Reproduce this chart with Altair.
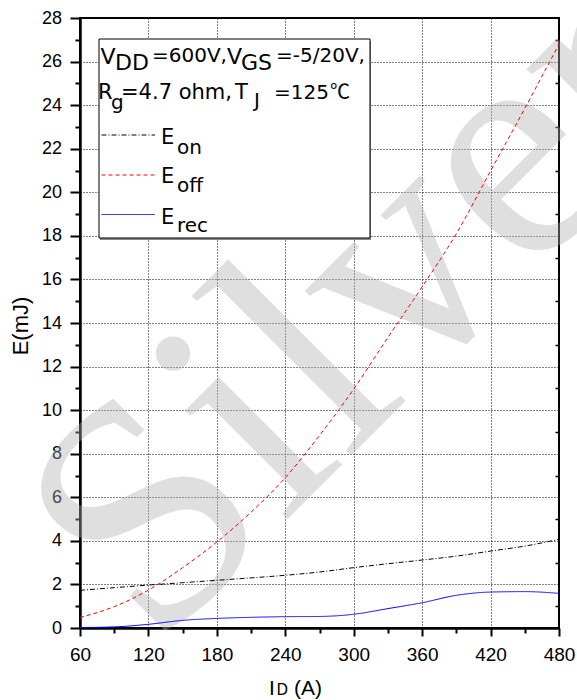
import altair as alt
import pandas as pd

# ---- data ----
current_a = [60, 90, 120, 150, 180, 210, 240, 270, 300, 330, 360, 390, 420, 450, 480]
e_on = [1.73, 1.85, 1.97, 2.08, 2.19, 2.30, 2.42, 2.57, 2.77, 2.95, 3.12, 3.30, 3.53, 3.76, 4.07]
e_off = [0.48, 0.98, 1.74, 2.77, 3.95, 5.32, 6.90, 8.84, 10.97, 13.34, 15.66, 18.10, 20.98, 23.85, 26.80]
e_rec = [0.02, 0.05, 0.17, 0.35, 0.44, 0.49, 0.52, 0.53, 0.63, 0.89, 1.16, 1.50, 1.65, 1.67, 1.59]
series_names = ["on", "off", "rec"]
x_major = [60, 120, 180, 240, 300, 360, 420, 480]
x_minor = [90, 150, 210, 270, 330, 390, 450]
y_major = list(range(0, 29, 2))
y_minor = list(range(1, 28, 2))

rows = []
for name, vals in zip(series_names, [e_on, e_off, e_rec]):
    for xv, yv in zip(current_a, vals):
        rows.append({"I": xv, "E": yv, "s": name})
df = pd.DataFrame(rows)
one = pd.DataFrame({"k": [0]})

W, H = 479, 610
FONT = "Liberation Sans"
LFONT = "DejaVu Sans"
xs = alt.Scale(domain=[60, 480], nice=False, zero=False)
ys = alt.Scale(domain=[0, 28], nice=False, zero=False)

colors = alt.Scale(domain=series_names, range=["#000000", "#ff0000", "#0000ff"])
dashes = alt.Scale(domain=series_names, range=[[5, 2, 1, 2], [4, 3], [1, 0]])

# main lines with major axes
lines = alt.Chart(df).mark_line(strokeWidth=1, interpolate="monotone", clip=True).encode(
    x=alt.X("I:Q", scale=xs, axis=alt.Axis(
        orient="bottom", values=x_major, tickSize=8, tickWidth=2, tickColor="black",
        labelFontSize=19, labelFont=FONT, labelColor="black", labelPadding=9,
        labelFlush=False, labelOverlap=False, grid=True, gridDash=[1, 2],
        gridColor="black", gridWidth=1, domain=True, domainWidth=2.5,
        domainColor="black", title=None)),
    y=alt.Y("E:Q", scale=ys, axis=alt.Axis(
        orient="left", values=y_major, tickSize=10, tickWidth=2, tickColor="black",
        labelFontSize=18, labelFont=FONT, labelColor="black", labelPadding=8.5,
        labelFlush=False, labelOverlap=False, grid=True, gridDash=[1, 2],
        gridColor="black", gridWidth=1, domain=True, domainWidth=2.5,
        domainColor="black", title=None)),
    color=alt.Color("s:N", scale=colors, legend=None),
    strokeDash=alt.StrokeDash("s:N", scale=dashes, legend=None),
)

# minor ticks (left and bottom)
minor = alt.Chart(df).mark_line(opacity=0).encode(
    x=alt.X("I:Q", scale=xs, axis=alt.Axis(
        orient="bottom", values=x_minor, tickSize=5, tickWidth=2, tickColor="black",
        labels=False, grid=False, domain=False, title=None)),
    y=alt.Y("E:Q", scale=ys, axis=alt.Axis(
        orient="left", values=y_minor, tickSize=5, tickWidth=2, tickColor="black",
        labels=False, grid=False, domain=False, title=None)),
    detail="s:N",
)

# inward minor ticks on the right frame
right = alt.Chart(df).mark_line(opacity=0).encode(
    x=alt.X("I:Q", scale=xs, axis=None),
    y=alt.Y("E:Q", scale=ys, axis=alt.Axis(
        orient="left", offset=-W, values=y_minor, tickSize=4, tickWidth=1.5,
        tickColor="black", labels=False, grid=False, domain=False, title=None)),
    detail="s:N",
)


def txt(s, x, y, size=20, font=LFONT, align="left", angle=None, baseline="alphabetic"):
    kw = dict(text=s, fontSize=size, font=font, align=align, baseline=baseline, color="black")
    if angle is not None:
        kw["angle"] = angle
    return alt.Chart(one).mark_text(**kw).encode(x=alt.value(x), y=alt.value(y))


def rule(x1, x2, y, color, dash):
    return alt.Chart(one).mark_rule(color=color, strokeWidth=1, strokeDash=dash).encode(
        x=alt.value(x1), x2=alt.value(x2), y=alt.value(y))


shadow = alt.Chart(one).mark_rect(fill="#8a8a8a").encode(
    x=alt.value(20), x2=alt.value(291), y=alt.value(23), y2=alt.value(222))
box = alt.Chart(one).mark_rect(fill="white", stroke="black", strokeWidth=1).encode(
    x=alt.value(19), x2=alt.value(290), y=alt.value(21), y2=alt.value(220))

watermark = alt.Chart(one).mark_text(
    text="Silver", font="Liberation Serif", fontSize=325, angle=315,
    align="center", baseline="middle", color="#b1b1b1", opacity=0.4,
).encode(x=alt.value(280), y=alt.value(290))

legend_layers = [
    txt("V", 20.5, 45.5, size=22), txt("DD", 35, 52, size=22),
    txt("=600V,", 72, 44), txt("V", 147, 45.5, size=22), txt("GS", 161, 52, size=22),
    txt("=-5/20V,", 196, 44),
    txt("R", 18, 80.5, size=21), txt("g", 31, 90.5),
    txt("=4.7 ohm,", 41, 80.5, size=21), txt("T", 155, 80.5, size=21), txt("J", 174, 88.5),
    txt("=125", 194, 80.5), txt("\u2103", 250, 80.5, font="Noto Sans CJK SC"),
    rule(21.5, 75, 117, "black", [5, 2, 1, 2]), txt("E", 81, 125.5, size=21), txt("on", 97, 135.5),
    rule(21.5, 75, 157, "red", [4, 3]), txt("E", 81, 165, size=21), txt("off", 97, 174),
    rule(21.5, 75, 196.5, "blue", [1, 0]), txt("E", 81, 205.5, size=21), txt("rec", 97, 214),
]

titles = [
    txt("I", 189, 677, size=21, font=FONT), txt("D", 196.5, 677, size=15),
    txt("(A)", 214, 677, size=21, font=FONT),
    txt("E(mJ)", -52, 308, size=22, font=FONT, align="center", angle=270),
]

chart = alt.layer(
    minor, right, shadow, box, *legend_layers, watermark, lines, *titles
).resolve_axis(x="independent", y="independent").properties(
    width=W, height=H,
    autosize=alt.AutoSizeParams(type="none"),
    padding={"left": 80, "top": 18, "right": 18, "bottom": 72},
    background="white",
).configure_view(stroke="black", strokeWidth=2)

chart.save("out.html", embed_options={"renderer": "svg", "actions": False})
